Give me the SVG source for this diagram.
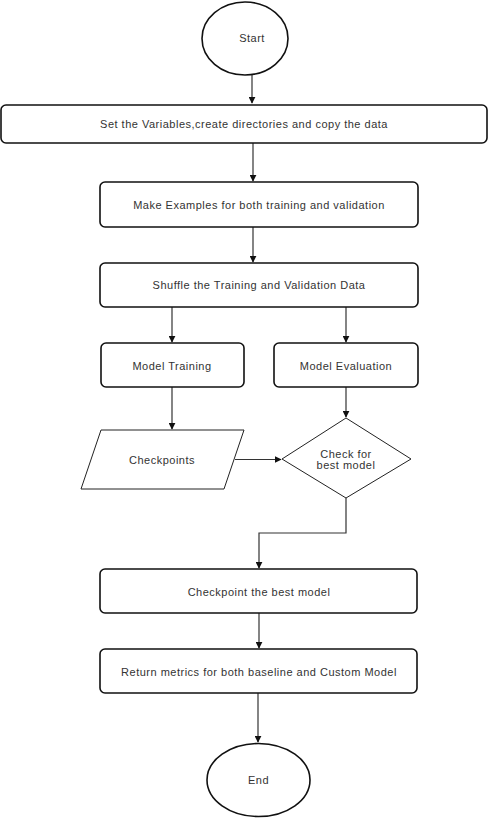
<svg xmlns="http://www.w3.org/2000/svg" width="489" height="818" viewBox="0 0 489 818">
<defs>
<marker id="arr" viewBox="0 0 10 10" refX="9" refY="5" markerWidth="7" markerHeight="7" markerUnits="userSpaceOnUse" orient="auto">
<path d="M0,0 L10,5 L0,10 z" fill="#111"/>
</marker>
</defs>
<style>
.box{fill:#fff;stroke:#111;stroke-width:1.6}
.shape{fill:#fff;stroke:#222;stroke-width:1}
.t{font-family:"Liberation Sans",Arial,sans-serif;font-size:11px;letter-spacing:0.5px;fill:#333;text-anchor:middle;dominant-baseline:central}
.c{fill:none;stroke:#333;stroke-width:1.2;marker-end:url(#arr)}
</style>
<rect width="489" height="818" fill="#fff"/>
<g id="connectors">
<path class="c" d="M252,75 V103"/>
<path class="c" d="M253,143 V181"/>
<path class="c" d="M253,227 V262"/>
<path class="c" d="M172,307 V342"/>
<path class="c" d="M346,307 V342"/>
<path class="c" d="M172,387 V429"/>
<path class="c" d="M346,387 V417"/>
<path class="c" d="M235,459.5 H281"/>
<path class="c" d="M346,498 V533 H259 V568"/>
<path class="c" d="M259,613 V648"/>
<path class="c" d="M258,693 V742"/>
</g>
<g id="start">
<ellipse class="box" cx="245" cy="38.5" rx="43" ry="36.5"/>
<text class="t" x="252" y="38">Start</text>
</g>
<g id="setvars">
<rect class="box" x="1" y="105" width="486" height="38" rx="5"/>
<text class="t" x="244" y="124">Set the Variables,create directories and copy the data</text>
</g>
<g id="examples">
<rect class="box" x="100" y="182" width="318" height="45" rx="5"/>
<text class="t" x="259" y="205">Make Examples for both training and validation</text>
</g>
<g id="shuffle">
<rect class="box" x="100" y="263" width="318" height="44" rx="5"/>
<text class="t" x="259" y="285">Shuffle the Training and Validation Data</text>
</g>
<g id="training">
<rect class="box" x="101" y="343" width="143" height="44" rx="5"/>
<text class="t" x="172" y="366">Model Training</text>
</g>
<g id="evaluation">
<rect class="box" x="274" y="343" width="144" height="44" rx="5"/>
<text class="t" x="346" y="366">Model Evaluation</text>
</g>
<g id="checkpoints">
<polygon class="shape" points="101,430 244,430 224,489 81,489"/>
<text class="t" x="162" y="460">Checkpoints</text>
</g>
<g id="check">
<polygon class="shape" points="346,418 411,459 346,498 282,459"/>
<text class="t" x="346" y="454">Check for</text>
<text class="t" x="346" y="465">best model</text>
</g>
<g id="bestmodel">
<rect class="box" x="100" y="569" width="317" height="44" rx="5"/>
<text class="t" x="259" y="592">Checkpoint the best model</text>
</g>
<g id="metrics">
<rect class="box" x="100" y="649" width="317" height="44" rx="5"/>
<text class="t" x="259" y="672">Return metrics for both baseline and Custom Model</text>
</g>
<g id="end">
<ellipse class="box" cx="258.5" cy="780" rx="51.5" ry="36.5"/>
<text class="t" x="258.5" y="780">End</text>
</g>
</svg>
